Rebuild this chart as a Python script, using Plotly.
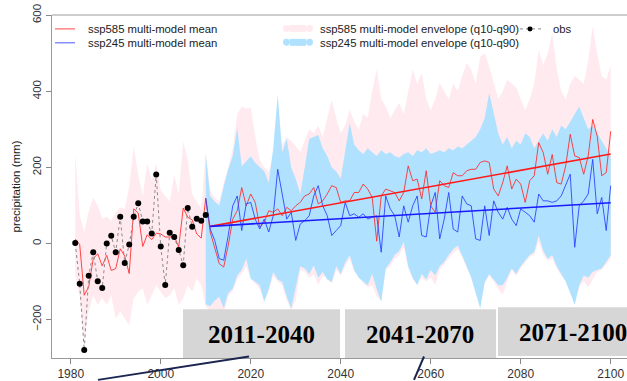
import plotly.graph_objects as go

# ---------------- data ----------------
obs_years = list(range(1981, 2011))
obs_values = [1, -106, -280, -85, -23, -99, -117, 0, 20, -23,
              70, -51, -3, 70, 106, 58, 58, 26, 181, -8,
              -109, 28, 17, -17, -57, 93, 44, 65, 60, 75]

years_585 = list(range(1981, 2101))
ssp585_mean = [12, -3, -136, -114, -40, -27, -59, -31, -71, -66,
               -14, -33, -79, 91, 80, -8, 23, 10, 27, 25,
               17, 17, 19, -9, 93, 69, 62, 25, 14, 119,
               30, -14, -53, -62, -5, 64, 86, 147, 99, 130,
               108, 43, 56, 86, 82, 91, 73, 95, 86, 99,
               108, 125, 130, 147, 104, 112, 130, 152, 147, 108,
               112, 112, 134, 134, 156, 143, 121, 6, 125, 143,
               139, 134, 112, 134, 204, 165, 169, 117, 191, 99,
               82, 165, 152, 147, 186, 178, 178, 191, 195, 195,
               213, 217, 213, 143, 125, 160, 204, 143, 169, 156,
               108, 165, 178, 265, 239, 182, 234, 160, 156, 204,
               287, 230, 226, 182, 230, 326, 282, 178, 186, 295]
ssp585_q90 = [240, 75, 30, 85, 120, 100, 65, 70, 60, 80,
              95, 90, 150, 255, 180, 125, 210, 165, 210, 140,
              125, 110, 180, 130, 268, 220, 130, 110, 90, 240,
              140, 120, 110, 160, 200, 250, 340, 360, 355, 356,
              280, 220, 200, 190, 230, 280, 260, 280, 270, 256,
              240, 270, 300, 290, 310, 280, 330, 378, 330, 290,
              310, 352, 320, 300, 340, 330, 400, 457, 380, 360,
              330, 350, 370, 340, 400, 457, 420, 448, 380, 350,
              380, 422, 400, 380, 420, 400, 440, 475, 457, 420,
              491, 500, 465, 420, 380, 400, 430, 420, 410, 380,
              350, 380, 420, 509, 470, 500, 553, 460, 400, 378,
              420, 440, 430, 420, 480, 570, 500, 440, 430, 470]
ssp585_q10 = [-84, -140, -257, -179, -136, -162, -144, -162, -136, -197,
              -179, -197, -214, -144, -127, -118, -162, -136, -110, -127,
              -144, -136, -118, -162, -144, -110, -127, -92, -110, -165,
              -180, -175, -190, -185, -140, -125, -95, -80, -60, -95,
              -105, -120, -150, -125, -85, -100, -110, -150, -175, -150,
              -70, -75, -90, -80, -110, -85, -90, -105, -70, -85,
              -60, -40, -75, -85, -105, -115, -110, -140, -150, -70,
              -60, -40, -30, -10, -65, -95, -105, -90, -100, -90,
              -110, -70, -55, -40, -25, -15, -35, -65, -85, -125,
              -165, -105, -85, -100, -120, -135, -100, -70, -85, -65,
              -50, -35, -30, 5, -30, -45, -40, -65, -85, -100,
              -125, -155, -115, -100, -115, -95, -75, -70, -55, -40]

years_245 = list(range(2010, 2101))
ssp245_mean = [119,
               38, 8, -40, -44, 21, 99, 125, 34, 104, 108,
               64, 38, 64, 30, 73, 195, 125, 64, 82, 8,
               51, 60, 73, 125, 152, 99, 73, 21, 34, 47,
               108, 73, 78, 69, 78, 64, 69, 73, -23, 125,
               91, 73, 17, 99, 56, 99, 125, 21, 17, 99,
               134, 12, 64, 134, 38, 30, 125, 104, 99, 12,
               8, 99, 21, 112, 82, 64, 95, 64, 47, 91,
               82, 73, 56, 130, 112, 112, 108, 112, 125, 152,
               182, -10, 99, 112, 130, 221, 78, 121, 34, 152]
ssp245_q90 = [234,
              125, 110, 100, 150, 195, 230, 304, 203, 215, 229,
              212, 200, 190, 160, 250, 391, 240, 275, 200, 170,
              130, 200, 275, 280, 285, 250, 230, 200, 190, 170,
              250, 317, 260, 245, 235, 250, 240, 230, 245, 235,
              240, 230, 225, 235, 240, 230, 245, 240, 250, 235,
              240, 245, 240, 250, 245, 255, 250, 260, 270, 280,
              300, 330, 396, 340, 290, 260, 280, 250, 270, 260,
              290, 280, 250, 270, 290, 270, 300, 280, 310, 300,
              320, 340, 360, 330, 300, 310, 290, 270, 250, 230]
ssp245_q10 = [-160,
              -165, -150, -140, -170, -130, -119, -84, -70, -40, -92,
              -100, -110, -153, -120, -75, -95, -101, -140, -171, -120,
              -60, -66, -80, -58, -90, -75, -95, -101, -60, -80,
              -50, -31, -70, -90, -100, -110, -80, -120, -153, -66,
              -50, -30, -20, 4, -60, -90, -110, -80, -95, -70,
              -84, -60, -49, -30, -15, -5, -31, -60, -90, -130,
              -171, -101, -80, -95, -110, -110, -90, -66, -80, -60,
              -45, -30, -23, 21, -20, -40, -31, -60, -80, -100,
              -130, -162, -110, -84, -90, -75, -70, -66, -50, -31]

trend_years = [2011, 2100]
trend_585 = [45, 235]
trend_245 = [45, 107]

x_ticks = [1980, 2000, 2020, 2040, 2060, 2080, 2100]
y_ticks = [-200, 0, 200, 400, 600]

period_labels = ["2011-2040", "2041-2070", "2071-2100"]
legend_texts = ["ssp585 multi-model mean", "ssp245 multi-model mean",
                "ssp585 multi-model envelope (q10-q90)",
                "ssp245 multi-model envelope (q10-q90)", "obs"]

# ---------------- style ----------------
PINK = "#FFEAF0"
SKY = "#B0E2FF"
RED = "rgba(255,40,40,0.85)"
BLUE = "rgba(40,60,255,0.85)"
FONT = "Liberation Sans, Arial, sans-serif"

W, H = 627, 381
L, R, T, B = 52, 0, 15, 21
PW, PH = W - L - R, H - T - B


def px(x):
    return (x - L) / PW


def py(y):
    return (H - B - y) / PH


fig = go.Figure()

# ssp585 envelope
fig.add_trace(go.Scatter(
    x=years_585 + years_585[::-1], y=ssp585_q90 + ssp585_q10[::-1],
    fill="toself", fillcolor=PINK, line=dict(width=0), mode="lines",
    hoverinfo="skip"))
# ssp245 envelope
fig.add_trace(go.Scatter(
    x=years_245 + years_245[::-1], y=ssp245_q90 + ssp245_q10[::-1],
    fill="toself", fillcolor=SKY, line=dict(width=0), mode="lines",
    hoverinfo="skip"))
# means
fig.add_trace(go.Scatter(x=years_585, y=ssp585_mean, mode="lines",
                         line=dict(color=RED, width=1)))
fig.add_trace(go.Scatter(x=years_245, y=ssp245_mean, mode="lines",
                         line=dict(color=BLUE, width=1)))
# trends
fig.add_trace(go.Scatter(x=trend_years, y=trend_585, mode="lines",
                         line=dict(color="#ff1a1a", width=1.6)))
fig.add_trace(go.Scatter(x=trend_years, y=trend_245, mode="lines",
                         line=dict(color="#1a1aff", width=1.6)))
# obs
fig.add_trace(go.Scatter(x=obs_years, y=obs_values, mode="lines+markers",
                         line=dict(color="#8a8a8a", width=1, dash="dot"),
                         marker=dict(color="black", size=6)))

shapes = []
annotations = []

# top frame line
shapes.append(dict(type="line", xref="paper", yref="paper", x0=0, x1=1,
                   y0=1, y1=1, line=dict(color="#bdbdbd", width=1.5)))

# legend
row1, row2 = 29, 43
shapes.append(dict(type="line", xref="paper", yref="paper", x0=px(55), x1=px(75),
                   y0=py(row1), y1=py(row1), line=dict(color=RED, width=1)))
shapes.append(dict(type="line", xref="paper", yref="paper", x0=px(55), x1=px(75),
                   y0=py(row2), y1=py(row2), line=dict(color=BLUE, width=1)))
shapes.append(dict(type="line", xref="paper", yref="paper", x0=px(290), x1=px(306),
                   y0=py(row1 - 0.5), y1=py(row1 - 0.5),
                   line=dict(color=PINK, width=7)))
shapes.append(dict(type="line", xref="paper", yref="paper", x0=px(290), x1=px(306),
                   y0=py(row2 - 0.5), y1=py(row2 - 0.5),
                   line=dict(color=SKY, width=7)))
for cx in (286.5, 309.5):
    shapes.append(dict(type="circle", xref="paper", yref="paper",
                       x0=px(cx - 3.5), x1=px(cx + 3.5),
                       y0=py(row1 - 0.5 + 3.5), y1=py(row1 - 0.5 - 3.5),
                       fillcolor=PINK, line=dict(width=0)))
    shapes.append(dict(type="circle", xref="paper", yref="paper",
                       x0=px(cx - 3.5), x1=px(cx + 3.5),
                       y0=py(row2 - 0.5 + 3.5), y1=py(row2 - 0.5 - 3.5),
                       fillcolor=SKY, line=dict(width=0)))
shapes.append(dict(type="line", xref="paper", yref="paper", x0=px(520), x1=px(541),
                   y0=py(row1), y1=py(row1),
                   line=dict(color="#8a8a8a", width=1, dash="dot")))
shapes.append(dict(type="circle", xref="paper", yref="paper",
                   x0=px(527.5), x1=px(532.5), y0=py(row1 + 2.5), y1=py(row1 - 2.5),
                   fillcolor="black", line=dict(width=0)))

leg_pos = [(86, row1), (86, row2), (318, row1), (318, row2), (551, row1)]
for txt, (lx, ly) in zip(legend_texts, leg_pos):
    annotations.append(dict(text=txt, xref="paper", yref="paper", x=px(lx), y=py(ly),
                            xanchor="left", yanchor="middle", showarrow=False,
                            font=dict(family=FONT, size=11.3, color="#222")))

# period boxes
boxes = [(183, 340, 311, 360), (345, 496, 311, 360), (498, 640, 309, 358)]
for (x0, x1, y0, y1), lab in zip(boxes, period_labels):
    shapes.append(dict(type="rect", xref="paper", yref="paper", layer="above",
                       x0=px(x0), x1=px(x1), y0=py(y1), y1=py(y0),
                       fillcolor="#d6d6d6", line=dict(width=0)))
text_centres = [(261, 336), (420, 336), (573, 334)]
for (cx, cy), lab in zip(text_centres, period_labels):
    annotations.append(dict(text="<b>%s</b>" % lab, xref="paper", yref="paper",
                            x=px(cx), y=py(cy), xanchor="center", yanchor="middle",
                            showarrow=False,
                            font=dict(family="Liberation Serif, Times New Roman, serif",
                                      size=25, color="black")))

# connector strokes
shapes.append(dict(type="line", xref="paper", yref="paper", layer="above",
                   x0=px(98), y0=py(382), x1=px(249), y1=py(358.5),
                   line=dict(color="#1b2550", width=2)))
shapes.append(dict(type="line", xref="paper", yref="paper", layer="above",
                   x0=px(414), y0=py(382), x1=px(424), y1=py(358.5),
                   line=dict(color="#1b2550", width=2)))

fig.update_layout(
    width=W, height=H, margin=dict(l=L, r=R, t=T, b=B),
    plot_bgcolor="white", paper_bgcolor="white", showlegend=False,
    shapes=shapes, annotations=annotations,
    font=dict(family=FONT, color="#222"),
)
fig.update_xaxes(range=[1975.84, 2103.62], tickvals=x_ticks, ticks="outside",
                 ticklen=5, tickcolor="#888", showline=True, linecolor="#999",
                 linewidth=1, showgrid=False, zeroline=False,
                 tickfont=dict(family=FONT, size=12, color="#333"))
fig.update_yaxes(range=[-301, 600.5], tickvals=y_ticks, ticks="outside",
                 ticklen=5, tickcolor="#888", showline=True, linecolor="#999",
                 linewidth=1, showgrid=False, zeroline=False, tickangle=-90,
                 tickfont=dict(family=FONT, size=11.5, color="#333"),
                 title=dict(text="precipitation (mm)", standoff=8,
                            font=dict(family=FONT, size=11.5, color="#222")))

fig.write_html("out.html", config={"displayModeBar": False},
               post_script="document.body.style.margin='0';document.body.style.padding='0';")
